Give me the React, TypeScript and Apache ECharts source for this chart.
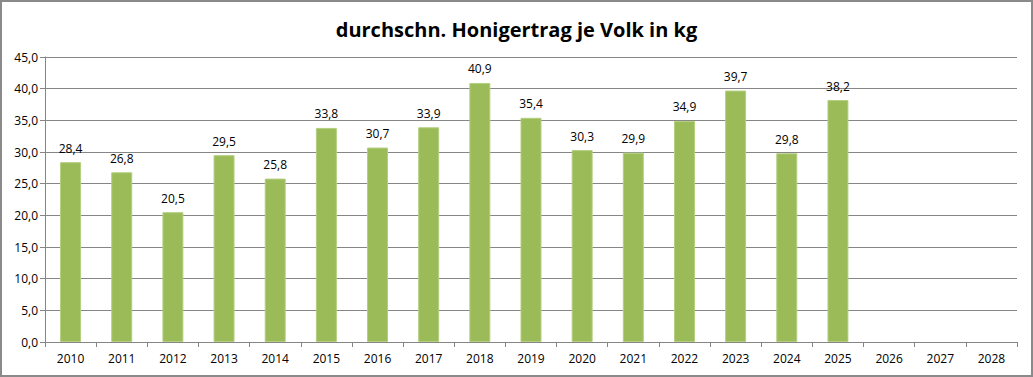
import React, { useEffect, useRef } from "react";
import * as echarts from "echarts";

const title = "durchschn. Honigertrag je Volk in kg";
const years = ["2010","2011","2012","2013","2014","2015","2016","2017","2018","2019","2020","2021","2022","2023","2024","2025","2026","2027","2028"];
const values: (number | null)[] = [28.4, 26.8, 20.5, 29.5, 25.8, 33.8, 30.7, 33.9, 40.9, 35.4, 30.3, 29.9, 34.9, 39.7, 29.8, 38.2, null, null, null];
const yMin = 0;
const yMax = 45;
const yStep = 5;

const fmt = (v: number) => v.toFixed(1).replace(".", ",");
const FONT = "'Open Sans', 'Noto Sans', sans-serif";

export default function App() {
  const ref = useRef<HTMLDivElement>(null);
  useEffect(() => {
    if (!ref.current) return;
    const chart = echarts.init(ref.current, null, { renderer: "svg" });
    chart.setOption({
      animation: false,
      backgroundColor: "transparent",
      title: {
        text: title,
        left: "center",
        top: 14,
        textStyle: { fontFamily: FONT, fontWeight: "bold", fontSize: 20, color: "#000" },
      },
      grid: { left: 45, right: 16, top: 57, bottom: 35, containLabel: false },
      xAxis: {
        type: "category",
        data: years,
        axisLine: { lineStyle: { color: "#868686", width: 1 } },
        axisTick: { show: true, alignWithLabel: false, length: 5, lineStyle: { color: "#868686" } },
        axisLabel: { fontFamily: FONT, fontSize: 12, color: "#000", margin: 10 },
      },
      yAxis: {
        type: "value",
        min: yMin,
        max: yMax,
        interval: yStep,
        axisLine: { show: true, lineStyle: { color: "#868686", width: 1 } },
        axisTick: { show: true, length: 5, lineStyle: { color: "#868686" } },
        splitLine: { lineStyle: { color: "#868686", width: 1 } },
        axisLabel: { fontFamily: FONT, fontSize: 12, color: "#000", margin: 7, formatter: (v: number) => fmt(v) },
      },
      series: [
        {
          type: "bar",
          data: values,
          barWidth: "41%",
          itemStyle: { color: "#9bbb59", borderColor: "#b3cf7f", borderWidth: 1 },
          label: {
            show: true,
            position: "top",
            distance: 8,
            fontFamily: FONT,
            fontSize: 12,
            color: "#000",
            formatter: (p: any) => (p.value == null ? "" : fmt(p.value)),
          },
        },
      ],
    });
    return () => chart.dispose();
  }, []);
  return (
    <div
      style={{
        position: "fixed",
        left: 0,
        top: 0,
        width: 1033,
        height: 377,
        background: "#fff",
      }}
    >
      <div ref={ref} style={{ position: "absolute", left: 0, top: 0, width: 1033, height: 377 }} />
      <div
        style={{
          position: "absolute",
          left: 0,
          top: 0,
          width: 1033,
          height: 377,
          boxSizing: "border-box",
          border: "2px solid #8a8a8a",
          pointerEvents: "none",
        }}
      />
    </div>
  );
}
